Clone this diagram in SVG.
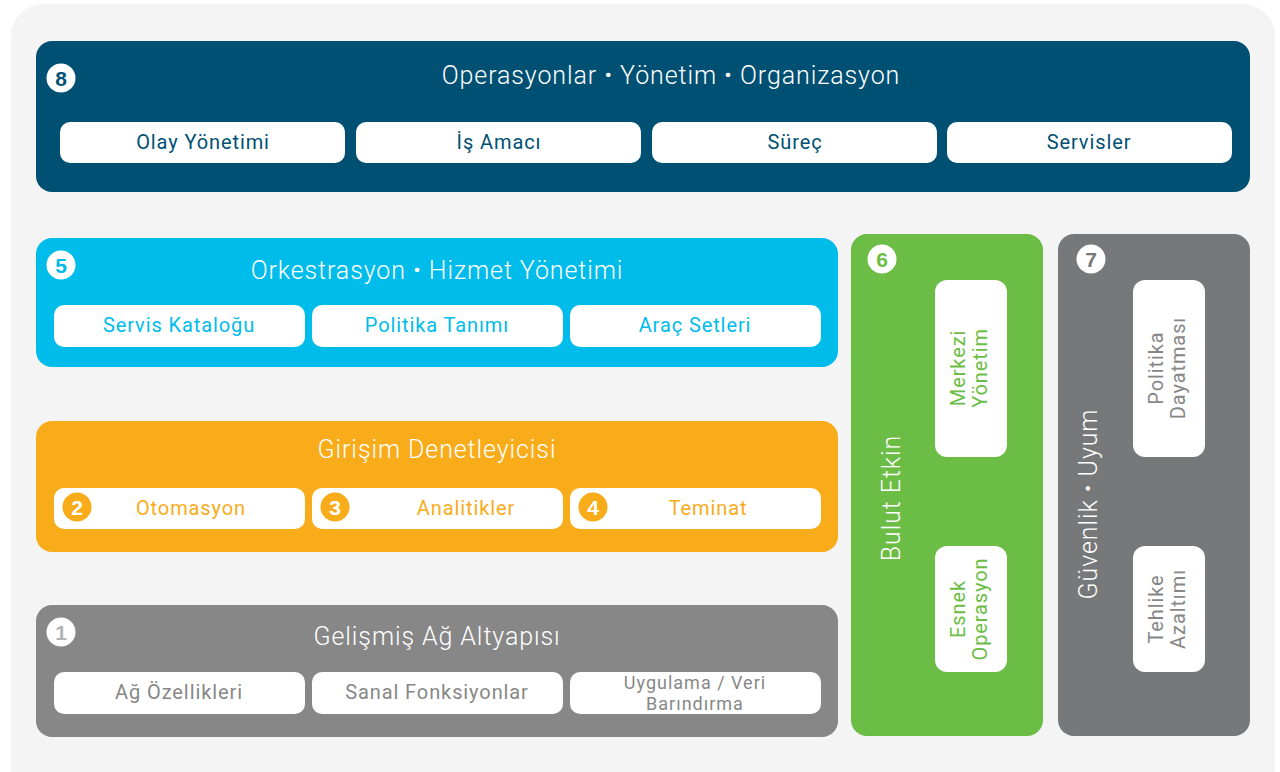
<svg xmlns="http://www.w3.org/2000/svg" width="1280" height="772" viewBox="0 0 1280 772">
<style>
.title{font-family:Roboto,"Liberation Sans",sans-serif;font-weight:300;font-size:25px;letter-spacing:0.9px;fill:#fff;text-anchor:middle}
.lbl{font-family:Roboto,"Liberation Sans",sans-serif;font-weight:400;font-size:20px;letter-spacing:0.9px;text-anchor:middle}
.sm{font-size:18px;letter-spacing:1px}
.num{font-family:"Liberation Sans",Arial,sans-serif;font-weight:700;font-size:21px;text-anchor:middle}
.dot{font-weight:900}
.sub{fill:#fff}
</style>
<rect x="11" y="4" width="1264" height="800" rx="32" fill="#f4f4f4"/>
<g id="node8">
<rect x="36" y="41" width="1214" height="151" rx="16" fill="#005073"/>
<circle cx="61" cy="78" r="14.5" fill="#fff"/>
<text class="num" x="61" y="85.5" fill="#005073">8</text>
<text class="title" x="671" y="84">Operasyonlar <tspan class="dot">·</tspan> Yönetim <tspan class="dot">·</tspan> Organizasyon</text>
<rect class="sub" x="60" y="122" width="285" height="41" rx="10"/>
<rect class="sub" x="356" y="122" width="285" height="41" rx="10"/>
<rect class="sub" x="652" y="122" width="285" height="41" rx="10"/>
<rect class="sub" x="947" y="122" width="285" height="41" rx="10"/>
<text class="lbl" x="203" y="149" fill="#005073">Olay Yönetimi</text>
<text class="lbl" x="499" y="149" fill="#005073">İş Amacı</text>
<text class="lbl" x="795" y="149" fill="#005073">Süreç</text>
<text class="lbl" x="1089" y="149" fill="#005073">Servisler</text>
</g>
<g id="node5">
<rect x="36" y="238" width="802" height="129" rx="16" fill="#00bceb"/>
<circle cx="61" cy="265" r="14.5" fill="#fff"/>
<text class="num" x="61" y="272.5" fill="#00bceb">5</text>
<text class="title" x="437" y="279">Orkestrasyon <tspan class="dot">·</tspan> Hizmet Yönetimi</text>
<rect class="sub" x="54" y="305" width="251" height="42" rx="10"/>
<rect class="sub" x="312" y="305" width="251" height="42" rx="10"/>
<rect class="sub" x="570" y="305" width="251" height="42" rx="10"/>
<text class="lbl" x="179" y="332" fill="#00bceb">Servis Kataloğu</text>
<text class="lbl" x="437" y="332" fill="#00bceb">Politika Tanımı</text>
<text class="lbl" x="695" y="332" fill="#00bceb">Araç Setleri</text>
</g>
<g id="node-girisim">
<rect x="36" y="421" width="802" height="131" rx="16" fill="#f8ac1a"/>
<text class="title" x="437" y="458">Girişim Denetleyicisi</text>
<rect class="sub" x="54" y="488" width="251" height="41" rx="10"/>
<rect class="sub" x="312" y="488" width="251" height="41" rx="10"/>
<rect class="sub" x="570" y="488" width="251" height="41" rx="10"/>
<circle cx="77" cy="507" r="14.5" fill="#f8ac1a"/>
<circle cx="335" cy="507" r="14.5" fill="#f8ac1a"/>
<circle cx="593" cy="507" r="14.5" fill="#f8ac1a"/>
<text class="num" x="77" y="514.5" fill="#fff">2</text>
<text class="num" x="335" y="514.5" fill="#fff">3</text>
<text class="num" x="593" y="514.5" fill="#fff">4</text>
<text class="lbl" x="191" y="515" fill="#f8ac1a">Otomasyon</text>
<text class="lbl" x="466" y="515" fill="#f8ac1a">Analitikler</text>
<text class="lbl" x="708" y="515" fill="#f8ac1a">Teminat</text>
</g>
<g id="node1">
<rect x="36" y="605" width="802" height="132" rx="16" fill="#878787"/>
<circle cx="61" cy="632" r="14.5" fill="#fff"/>
<text class="num" x="61" y="639.5" fill="#b3b3b3">1</text>
<text class="title" x="437" y="645">Gelişmiş Ağ Altyapısı</text>
<rect class="sub" x="54" y="672" width="251" height="42" rx="10"/>
<rect class="sub" x="312" y="672" width="251" height="42" rx="10"/>
<rect class="sub" x="570" y="672" width="251" height="42" rx="10"/>
<text class="lbl" x="179" y="699" fill="#878787">Ağ Özellikleri</text>
<text class="lbl" x="437" y="699" fill="#878787">Sanal Fonksiyonlar</text>
<text class="lbl sm" x="695" y="689" fill="#878787">Uygulama / Veri</text>
<text class="lbl sm" x="695" y="710" fill="#878787">Barındırma</text>
</g>
<g id="node6">
<rect x="851" y="234" width="192" height="502" rx="16" fill="#6cbd45"/>
<circle cx="882" cy="259" r="14.5" fill="#fff"/>
<text class="num" x="882" y="266.5" fill="#6cbd45">6</text>
<text class="title" transform="translate(900,498) rotate(-90)">Bulut Etkin</text>
<rect class="sub" x="935" y="280" width="72" height="177" rx="12"/>
<rect class="sub" x="935" y="546" width="72" height="126" rx="12"/>
<g transform="translate(971,368) rotate(-90)" fill="#6cbd45">
<text class="lbl" x="0" y="-6">Merkezi</text>
<text class="lbl" x="0" y="16">Yönetim</text>
</g>
<g transform="translate(971,609) rotate(-90)" fill="#6cbd45">
<text class="lbl" x="0" y="-6">Esnek</text>
<text class="lbl" x="0" y="16">Operasyon</text>
</g>
</g>
<g id="node7">
<rect x="1058" y="234" width="192" height="502" rx="16" fill="#77787a"/>
<circle cx="1091" cy="259" r="14.5" fill="#fff"/>
<text class="num" x="1091" y="266.5" fill="#77787a">7</text>
<text class="title" transform="translate(1097,504) rotate(-90)">Güvenlik <tspan class="dot">·</tspan> Uyum</text>
<rect class="sub" x="1133" y="280" width="72" height="177" rx="12"/>
<rect class="sub" x="1133" y="546" width="72" height="126" rx="12"/>
<g transform="translate(1169,368) rotate(-90)" fill="#878787">
<text class="lbl" x="0" y="-6">Politika</text>
<text class="lbl" x="0" y="16">Dayatması</text>
</g>
<g transform="translate(1169,609) rotate(-90)" fill="#878787">
<text class="lbl" x="0" y="-6">Tehlike</text>
<text class="lbl" x="0" y="16">Azaltımı</text>
</g>
</g>
<g id="connectors"></g>
</svg>
